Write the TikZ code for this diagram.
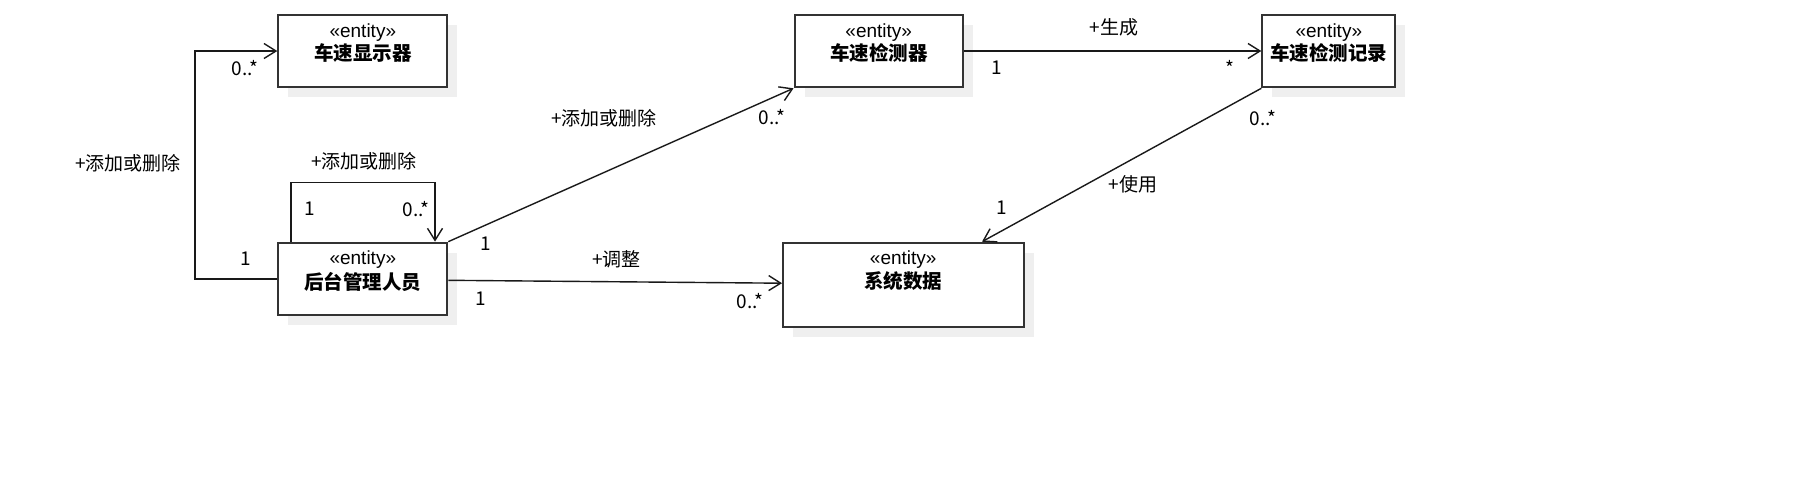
\documentclass[tikz,border=0pt]{standalone}
\usepackage{fontspec}
\setmainfont{Liberation Sans}
\newfontfamily\cjk{Noto Sans CJK SC}
\usetikzlibrary{arrows.meta}
\definecolor{linec}{HTML}{333333}
\definecolor{shadowc}{HTML}{EFEFEF}
\tikzset{
  umlbox/.style={draw=linec, line width=2pt, fill=white, rectangle, inner sep=0pt},
  shadowbox/.style={fill=shadowc, draw=none, rectangle, inner sep=0pt},
  stereo/.style={inner sep=0pt, font=\fontsize{19}{22}\selectfont},
  cname/.style={inner sep=0pt, font=\fontsize{19.5}{22}\selectfont\cjk\bfseries},
  lbl/.style={inner sep=0pt, font=\fontsize{19}{22}\selectfont\cjk},
  assoc/.style={draw=black!90, line width=1.4pt, -{Straight Barb[length=12pt,width=15pt,line width=1.4pt]}},
  plainline/.style={draw=black!90, line width=1.4pt}
}
\begin{document}
\begin{tikzpicture}[x=1pt,y=-1pt]
\useasboundingbox (0,0) rectangle (1795,491);
% shadows
\node[shadowbox, minimum width=169pt, minimum height=72.6pt] (dispS) at (372.8,61) {};
\node[shadowbox, minimum width=169pt, minimum height=72.3pt] (adminS) at (372.8,288.8) {};
\node[shadowbox, minimum width=168.5pt, minimum height=72.6pt] (detS) at (888.75,61) {};
\node[shadowbox, minimum width=133pt, minimum height=72.6pt] (recS) at (1338.8,61) {};
\node[shadowbox, minimum width=240.5pt, minimum height=84pt] (dataS) at (913.25,294.7) {};
% boxes
\node[umlbox, minimum width=169pt, minimum height=72.6pt] (disp) at (362.8,51) {};
\node[umlbox, minimum width=169pt, minimum height=72.3pt] (admin) at (362.8,278.8) {};
\node[umlbox, minimum width=168.5pt, minimum height=72.6pt] (det) at (878.75,51) {};
\node[umlbox, minimum width=133pt, minimum height=72.6pt] (rec) at (1328.8,51) {};
\node[umlbox, minimum width=240.5pt, minimum height=84pt] (data) at (903.25,284.7) {};
% box texts
\node[stereo] (dispSt) at (362.8,32.5) {«entity»};
\node[cname] (dispN) at (362.8,53) {车速显示器};
\node[stereo] (adminSt) at (362.8,260) {«entity»};
\node[cname] (adminN) at (362.8,281.5) {后台管理人员};
\node[stereo] (detSt) at (878.75,32.5) {«entity»};
\node[cname] (detN) at (878.75,53) {车速检测器};
\node[stereo] (recSt) at (1328.8,32.5) {«entity»};
\node[cname] (recN) at (1328.8,53) {车速检测记录};
\node[stereo] (dataSt) at (903.25,260) {«entity»};
\node[cname] (dataN) at (903.25,281.5) {系统数据};
% helper coordinates
\coordinate (lc) at (195,0);
\coordinate (sl1) at (291,182.7);
\coordinate (sl2) at (435,182.7);
% connectors
\draw[assoc] (admin.west) -- (admin.west -| lc) -- (disp.west -| lc) -- (disp.west);
\draw[assoc] (sl1 |- admin.north) -- (sl1) -- (sl2) -- (sl2 |- admin.north);
\draw[assoc] (admin.north east) -- (det.south west);
\draw[assoc] ([yshift=-1.5pt]admin.east) -- ([yshift=1.5pt]data.west);
\draw[assoc] (det.east) -- (rec.west);
\draw[assoc] (rec.south west) -- ([xshift=78.75pt]data.north);
% labels
\node[lbl] (l1) at (128,163) {+添加或删除};
\node[lbl] (l1a) at (245,68) {0..*};
\node[lbl] (l1b) at (245.7,259) {1};
\node[lbl] (l2) at (364,161) {+添加或删除};
\node[lbl] (l2a) at (310,209) {1};
\node[lbl] (l2b) at (416,209) {0..*};
\node[lbl] (l3) at (604,118) {+添加或删除};
\node[lbl] (l3a) at (772,117) {0..*};
\node[lbl] (l3b) at (485.5,244) {1};
\node[lbl] (l4) at (616.5,259) {+调整};
\node[lbl] (l4a) at (481,298.5) {1};
\node[lbl] (l4b) at (750,301.5) {0..*};
\node[lbl] (l5) at (1114,27) {+生成};
\node[lbl] (l5a) at (997,68) {1};
\node[lbl] (l5b) at (1230,68) {*};
\node[lbl] (l6) at (1133,184) {+使用};
\node[lbl] (l6a) at (1263,118) {0..*};
\node[lbl] (l6b) at (1002,208) {1};
\end{tikzpicture}
\end{document}
